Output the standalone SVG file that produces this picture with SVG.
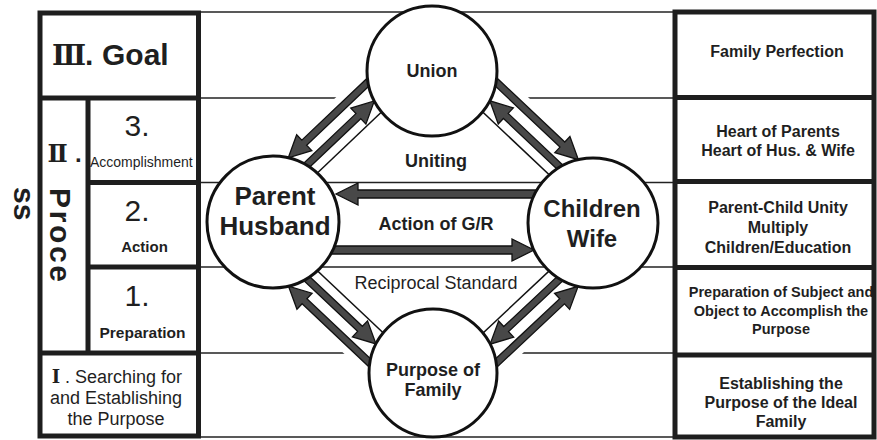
<svg xmlns="http://www.w3.org/2000/svg" width="877" height="440" viewBox="0 0 877 440">
<style>
.fr{fill:none;stroke:#1e1e1e;stroke-width:5}
.dv{stroke:#1e1e1e;stroke-width:5}
.hl{stroke:#222;stroke-width:1.6}
.b{font-family:"Liberation Sans",Arial,sans-serif;font-weight:bold;fill:#1f1f1f}
.r{font-family:"Liberation Sans",Arial,sans-serif;fill:#1f1f1f}
.rn{font-family:"DejaVu Serif","DejaVu Sans","Noto Sans CJK JP",serif;font-weight:bold;fill:#1f1f1f}
.m{text-anchor:middle}
.arr{fill:#484848;stroke:#111;stroke-width:1.3}
.band{fill:#fff}
.thin{stroke:#111;stroke-width:1.5}
.node{fill:#fff;stroke:#111;stroke-width:3}
</style>
<rect width="877" height="440" fill="#fff"/>
<g id="grid">
<line class="hl" x1="198" y1="12" x2="676" y2="12"/>
<line class="hl" x1="198" y1="98" x2="676" y2="98"/>
<line class="hl" x1="198" y1="182.5" x2="676" y2="182.5"/>
<line class="hl" x1="198" y1="267" x2="676" y2="267"/>
<line class="hl" x1="198" y1="353" x2="676" y2="353"/>
<line class="hl" x1="198" y1="437" x2="676" y2="437"/>
</g>
<g id="stages">
<rect class="fr" x="40" y="13" width="158.5" height="423"/>
<line class="dv" x1="40" y1="98" x2="198.5" y2="98"/>
<line class="dv" x1="40" y1="353" x2="198.5" y2="353"/>
<line class="dv" x1="88" y1="98" x2="88" y2="353"/>
<line class="dv" x1="88" y1="182.5" x2="198.5" y2="182.5"/>
<line class="dv" x1="88" y1="267" x2="198.5" y2="267"/>
<text class="rn m" x="69" y="65" font-size="28">Ⅲ</text>
<text class="b" x="85" y="65" font-size="30">.</text>
<text class="b" x="102" y="65" font-size="30">Goal</text>
<text class="rn m" x="57.5" y="162" font-size="24">Ⅱ</text>
<text class="b" x="75" y="162" font-size="24">.</text>
<text class="b" transform="translate(50,188) rotate(90)" font-size="30" textLength="94" lengthAdjust="spacing">Proce</text>
<text class="b" transform="translate(14,187) rotate(90)" font-size="30">ss</text>
<text class="r m" x="137" y="136" font-size="30">3.</text>
<text class="r" x="90" y="167" font-size="14">Accomplishment</text>
<text class="r m" x="137" y="221" font-size="30">2.</text>
<text class="b m" x="144.5" y="252" font-size="15">Action</text>
<text class="r m" x="137" y="306" font-size="30">1.</text>
<text class="b m" x="142.5" y="338" font-size="15.5">Preparation</text>
<text class="rn m" x="56" y="383" font-size="18" font-weight="normal">Ⅰ</text>
<text class="r" x="65" y="383" font-size="18">.</text>
<text class="r" x="75" y="383" font-size="18">Searching for</text>
<text class="r m" x="116" y="404" font-size="18">and Establishing</text>
<text class="r m" x="116" y="425" font-size="18">the Purpose</text>
</g>
<g id="contents">
<rect class="fr" x="675" y="12" width="199" height="425"/>
<line class="dv" x1="675" y1="97.5" x2="874" y2="97.5"/>
<line class="dv" x1="675" y1="181.5" x2="874" y2="181.5"/>
<line class="dv" x1="675" y1="267.5" x2="874" y2="267.5"/>
<line class="dv" x1="675" y1="355" x2="874" y2="355"/>
<text class="b m" x="777" y="57" font-size="16">Family Perfection</text>
<text class="b m" x="778" y="137" font-size="16">Heart of Parents</text>
<text class="b m" x="778" y="156" font-size="16">Heart of Hus. &amp; Wife</text>
<text class="b m" x="778" y="213" font-size="16">Parent-Child Unity</text>
<text class="b m" x="778" y="233" font-size="16">Multiply</text>
<text class="b m" x="778" y="253" font-size="16">Children/Education</text>
<text class="b m" x="781" y="297" font-size="14.5">Preparation of Subject and</text>
<text class="b m" x="781" y="316" font-size="14.5">Object to Accomplish the</text>
<text class="b m" x="781" y="334" font-size="14.5">Purpose</text>
<text class="b m" x="781" y="389" font-size="16">Establishing the</text>
<text class="b m" x="781" y="408" font-size="16">Purpose of the Ideal</text>
<text class="b m" x="781" y="427" font-size="16">Family</text>
</g>
<g id="connectors">
<path class="arr" d="M545,190 L358,190 L358,183 L336,194 L358,205 L358,198 L545,198 Z"/>
<path class="arr" d="M325,246 L512,246 L512,239 L534,250 L512,261 L512,254 L325,254 Z"/>
<g transform="translate(432,71) rotate(136.48)">
<rect class="band" x="42" y="5" width="135.3" height="42"/>
<line class="thin" x1="42" y1="5" x2="177.3" y2="5"/>
<path class="arr" d="M48,32.5 L142,32.5 L142,25 L164,36 L142,47 L142,39.5 L48,39.5 Z"/>
<path class="arr" d="M162,14.5 L84.5,14.5 L84.5,7 L62.5,18 L84.5,29 L84.5,21.5 L162,21.5 Z"/>
</g>
<g transform="translate(593,223) rotate(-136.65)">
<rect class="band" x="42" y="5" width="137.4" height="42"/>
<line class="thin" x1="42" y1="5" x2="179.4" y2="5"/>
<path class="arr" d="M173,32.5 L76.1,32.5 L76.1,25 L54.1,36 L76.1,47 L76.1,39.5 L173,39.5 Z"/>
<path class="arr" d="M56,14.5 L136.9,14.5 L136.9,7 L158.9,18 L136.9,29 L136.9,21.5 L56,21.5 Z"/>
</g>
<g transform="translate(273,222) rotate(43.34)">
<rect class="band" x="42" y="5" width="136" height="42"/>
<line class="thin" x1="42" y1="5" x2="178" y2="5"/>
<path class="arr" d="M172,32.5 L77.3,32.5 L77.3,25 L55.3,36 L77.3,47 L77.3,39.5 L172,39.5 Z"/>
<path class="arr" d="M57,14.5 L136.6,14.5 L136.6,7 L158.6,18 L136.6,29 L136.6,21.5 L57,21.5 Z"/>
</g>
<g transform="translate(433,373) rotate(-43.15)">
<rect class="band" x="42" y="5" width="135.3" height="42"/>
<line class="thin" x1="42" y1="5" x2="177.3" y2="5"/>
<path class="arr" d="M47,32.5 L143.2,32.5 L143.2,25 L165.2,36 L143.2,47 L143.2,39.5 L47,39.5 Z"/>
<path class="arr" d="M163,14.5 L83.4,14.5 L83.4,7 L61.4,18 L83.4,29 L83.4,21.5 L163,21.5 Z"/>
</g>
</g>
<g id="union">
<circle class="node" cx="432" cy="71" r="65"/>
<text class="b m" x="432" y="77" font-size="18">Union</text>
</g>
<g id="parent-husband">
<circle class="node" cx="273" cy="222" r="66"/>
<text class="b m" x="275" y="205" font-size="26">Parent</text>
<text class="b m" x="275" y="235" font-size="26">Husband</text>
</g>
<g id="children-wife">
<circle class="node" cx="593" cy="223" r="65"/>
<text class="b m" x="592" y="217" font-size="24">Children</text>
<text class="b m" x="592" y="247" font-size="24">Wife</text>
</g>
<g id="purpose-of-family">
<circle class="node" cx="433" cy="373" r="64"/>
<text class="b m" x="433" y="376" font-size="18">Purpose of</text>
<text class="b m" x="433" y="396" font-size="18">Family</text>
</g>
<g id="labels">
<text class="b m" x="436" y="167" font-size="18">Uniting</text>
<text class="b m" x="436" y="230" font-size="18">Action of G/R</text>
<text class="r m" x="436" y="289" font-size="18">Reciprocal Standard</text>
</g>
</svg>
